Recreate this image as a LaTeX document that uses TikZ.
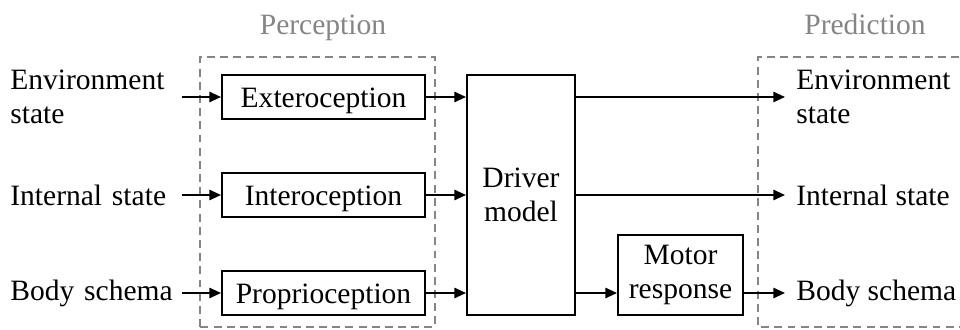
\documentclass[tikz,border=0pt]{standalone}
\usepackage{fontspec}
\setmainfont{Liberation Serif}
\usepackage{xcolor}
\usetikzlibrary{arrows.meta}
\definecolor{diagink}{HTML}{000000}
\definecolor{diaggroup}{HTML}{858585}

\begin{document}
\begin{tikzpicture}[
  x=1cm,
  y=1cm,
  every node/.style={font=\fontsize{16.8}{19.4}\selectfont, diagink},
  block/.style={draw=diagink, line width=1.1pt, inner sep=0pt, align=center},
  sense/.style={block, minimum width=4.06cm, minimum height=0.88cm,
                text height=11.5pt, text depth=0pt},
  flow/.style={diagink, line width=1.1pt, -{Triangle[length=6.6pt, width=5.8pt]}},
  group/.style={diaggroup, line width=0.8pt, dash pattern=on 4.5pt off 3pt},
  grouptitle/.style={text=diaggroup, anchor=base},
  inlabel/.style={anchor=west, align=left, inner sep=0pt, text width=3.42cm},
  outlabel/.style={anchor=west, align=left, inner ysep=0pt, inner xsep=0.22cm}
]
  \useasboundingbox (0,0) rectangle (19.2,6.58);

  % ---- dashed groups (the right one runs past the edge) ----
  \draw[group] (4.0,0.04) rectangle (8.7,5.44);
  \draw[group] (19.6,0.04) -- (15.16,0.04) -- (15.16,5.44) -- (19.6,5.44);
  \node[grouptitle] (percept) at (6.46,5.88) {Perception};
  \node[grouptitle] (predict) at (17.3,5.88) {Prediction};

  % ---- sensing blocks ----
  \node[sense] (extero)  at (6.47,4.64) {Exteroception};
  \node[sense] (intero)  at (6.47,2.68) {Interoception};
  \node[sense] (proprio) at (6.47,0.72) {Proprioception};

  % ---- driver model and motor response ----
  \node[block, minimum width=2.16cm, minimum height=4.8cm] (driver) at (10.42,2.68) {Driver\\model};
  \node[block, minimum width=2.5cm, minimum height=1.6cm] (motor) at (13.61,1.08) {Motor\\response};

  % ---- inputs on the left ----
  \node[inlabel] (envin)  at (0.2,4.64) {Environment\\state};
  \node[inlabel] (intin)  at (0.2,2.68) {Internal state};
  \node[inlabel] (bodyin) at (0.2,0.72) {Body schema};

  % ---- predicted states on the right ----
  \node[outlabel] (envout)  at (15.7,4.64) {Environment\\state};
  \node[outlabel] (intout)  at (15.7,2.68) {Internal state};
  \node[outlabel] (bodyout) at (15.7,0.72) {Body schema};

  % ---- connectors ----
  \draw[flow] (envin.east)  -- (extero.west);
  \draw[flow] (intin.east)  -- (intero.west);
  \draw[flow] (bodyin.east) -- (proprio.west);

  \draw[flow] (extero.east)  -- (driver.west |- extero);
  \draw[flow] (intero.east)  -- (driver.west |- intero);
  \draw[flow] (proprio.east) -- (driver.west |- proprio);

  \draw[flow] (driver.east |- envout) -- (envout.west);
  \draw[flow] (driver.east |- intout) -- (intout.west);
  \draw[flow] (driver.east |- bodyout) -- (motor.west |- bodyout);
  \draw[flow] (motor.east |- bodyout) -- (bodyout.west);
\end{tikzpicture}
\end{document}
